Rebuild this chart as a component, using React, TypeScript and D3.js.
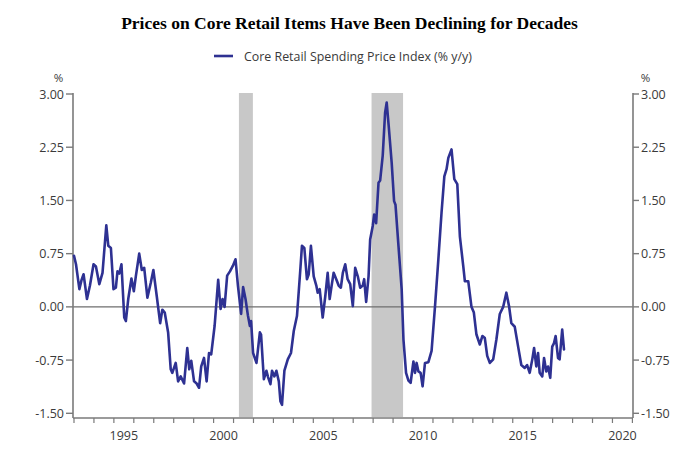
import React from 'react';
import * as d3 from 'd3';

const title = 'Prices on Core Retail Items Have Been Declining for Decades';
const seriesName = 'Core Retail Spending Price Index (% y/y)';

// decimal years
const dates = [
  1993.0, 1993.1, 1993.27, 1993.38, 1993.48, 1993.65, 1993.8, 1993.98, 1994.1, 1994.27,
  1994.43, 1994.62, 1994.72, 1994.85, 1994.98, 1995.1, 1995.18, 1995.27, 1995.38, 1995.52,
  1995.6, 1995.72, 1995.88, 1996.0, 1996.1, 1996.27, 1996.4, 1996.52, 1996.68, 1996.85,
  1996.98, 1997.15, 1997.32, 1997.43, 1997.55, 1997.72, 1997.85, 1997.93, 1998.1, 1998.22,
  1998.35, 1998.52, 1998.68, 1998.78, 1998.88, 1999.02, 1999.15, 1999.27, 1999.38, 1999.52,
  1999.65, 1999.77, 1999.88, 2000.05, 2000.23, 2000.35, 2000.45, 2000.55, 2000.68, 2000.82,
  2000.97, 2001.1, 2001.22, 2001.38, 2001.48, 2001.6, 2001.72, 2001.82, 2001.88, 2001.98,
  2002.15, 2002.32, 2002.38, 2002.52, 2002.65, 2002.73, 2002.85, 2002.93, 2003.05, 2003.15,
  2003.27, 2003.35, 2003.43, 2003.55, 2003.72, 2003.88, 2004.02, 2004.18, 2004.35, 2004.43,
  2004.55, 2004.68, 2004.77, 2004.88, 2005.02, 2005.15, 2005.22, 2005.32, 2005.47, 2005.6,
  2005.72, 2005.82, 2005.93, 2006.02, 2006.15, 2006.27, 2006.38, 2006.48, 2006.6, 2006.72,
  2006.85, 2006.98, 2007.1, 2007.23, 2007.35, 2007.48, 2007.55, 2007.65, 2007.77, 2007.85,
  2007.98, 2008.05, 2008.15, 2008.27, 2008.35, 2008.48, 2008.6, 2008.68, 2008.78, 2008.93,
  2009.05, 2009.12, 2009.27, 2009.43, 2009.52, 2009.65, 2009.77, 2009.88, 2010.02, 2010.1,
  2010.18, 2010.27, 2010.38, 2010.48, 2010.6, 2010.77, 2010.93, 2011.1, 2011.27, 2011.43,
  2011.57, 2011.68, 2011.77, 2011.93, 2012.07, 2012.22, 2012.35, 2012.52, 2012.6, 2012.77,
  2012.93, 2013.05, 2013.18, 2013.35, 2013.48, 2013.6, 2013.72, 2013.85, 2014.02, 2014.18,
  2014.35, 2014.52, 2014.68, 2014.82, 2014.93, 2015.1, 2015.27, 2015.43, 2015.6, 2015.72,
  2015.85, 2015.98, 2016.07, 2016.18, 2016.27, 2016.35, 2016.48, 2016.57, 2016.68, 2016.77,
  2016.88, 2016.98, 2017.07, 2017.15, 2017.27, 2017.35, 2017.48, 2017.57,
];

const values = [
  0.72, 0.6, 0.25, 0.38, 0.46, 0.11, 0.3, 0.6, 0.57, 0.32,
  0.48, 1.15, 0.86, 0.83, 0.25, 0.27, 0.5, 0.47, 0.6, -0.15,
  -0.2, 0.11, 0.4, 0.22, 0.43, 0.75, 0.52, 0.55, 0.13, 0.34,
  0.52, 0.15, -0.23, -0.04, -0.08, -0.36, -0.88, -0.93, -0.79, -1.05,
  -0.98, -1.08, -0.58, -0.88, -0.76, -1.05, -1.08, -1.14, -0.84, -0.72,
  -1.05, -0.65, -0.67, -0.27, 0.38, -0.03, 0.11, 0.0, 0.44, 0.5,
  0.58, 0.67, 0.3, -0.1, 0.28, 0.11, -0.12, -0.27, -0.2, -0.65,
  -0.79, -0.36, -0.39, -1.02, -0.9, -0.99, -1.09, -0.9, -0.98, -0.9,
  -1.05, -1.33, -1.38, -0.9, -0.74, -0.65, -0.34, -0.13, 0.53, 0.86,
  0.83, 0.39, 0.46, 0.86, 0.43, 0.3, 0.2, 0.25, -0.15, 0.15,
  0.48, 0.11, 0.32, 0.48, 0.39, 0.3, 0.27, 0.48, 0.6, 0.39,
  0.32, 0.01, 0.55, 0.43, 0.27, 0.3, 0.39, 0.07, 0.43, 0.95,
  1.14, 1.3, 1.18, 1.75, 1.78, 2.13, 2.74, 2.88, 2.55, 2.03,
  1.49, 1.44, 0.86, 0.25, -0.46, -0.93, -1.04, -1.07, -0.77, -0.93,
  -0.79, -0.91, -0.93, -1.12, -0.79, -0.78, -0.62, 0.0, 0.67, 1.33,
  1.84, 1.94, 2.1, 2.22, 1.8, 1.73, 0.99, 0.57, 0.36, 0.36,
  0.0, -0.08, -0.39, -0.53, -0.41, -0.44, -0.69, -0.79, -0.74, -0.46,
  -0.1, 0.0, 0.2, 0.0, -0.23, -0.28, -0.56, -0.82, -0.86, -0.82,
  -0.93, -0.74, -0.58, -0.84, -0.65, -0.93, -0.98, -0.72, -0.91, -0.84,
  -1.0, -0.56, -0.51, -0.41, -0.72, -0.74, -0.32, -0.6,
];

const recessionStarts = [2001.27, 2007.92];
const recessionEnds = [2001.97, 2009.5];

const yTicks = [3.0, 2.25, 1.5, 0.75, 0.0, -0.75, -1.5];
const yearTicks = d3.range(1993, 2022);
const yearLabels = [1995, 2000, 2005, 2010, 2015, 2020];

const W = 700;
const H = 455;
const left = 73;
const right = 633;
const top = 94;
const bottom = 413.3;

const LINE_COLOR = '#2E3192';
const AXIS_COLOR = '#7a7a7a';
const TEXT_COLOR = '#3a3a3a';
const FONT = "'Open Sans', 'DejaVu Sans', sans-serif";

export default function App() {
  const x = d3.scaleLinear().domain([1992.95, 2021.03]).range([left, right]);
  const y = d3.scaleLinear().domain([-1.5, 3]).range([bottom, top]);
  const axisY = y(-1.5) + 4.7;
  const axisTop = y(3) - 1;

  const pts = dates.map((d, i) => [d, values[i]] as [number, number]);
  const line = d3
    .line<[number, number]>()
    .x((d) => x(d[0]))
    .y((d) => y(d[1]));

  return (
    <svg
      width={W}
      height={H}
      style={{ position: 'absolute', left: 0, top: 0, background: '#fff' }}
      fontFamily={FONT}
    >
      <rect x={0} y={0} width={W} height={H} fill="#fff" />
      <text
        x={349.5}
        y={29}
        textAnchor="middle"
        fontFamily="'Liberation Serif', 'Times New Roman', serif"
        fontWeight="bold"
        fontSize={17.5}
        fill="#000"
      >
        {title}
      </text>

      {/* legend */}
      <line x1={214} x2={233} y1={56} y2={56} stroke={LINE_COLOR} strokeWidth={2.6} />
      <text x={244} y={60.5} fontSize={12.4} fill={TEXT_COLOR}>
        {seriesName}
      </text>

      {/* recession bands */}
      {recessionStarts.map((s, i) => (
        <rect
          key={i}
          x={x(s)}
          y={axisTop}
          width={x(recessionEnds[i]) - x(s)}
          height={axisY - axisTop - 1}
          fill="#c8c8c8"
        />
      ))}

      {/* zero line */}
      <line x1={left} x2={right} y1={y(0)} y2={y(0)} stroke="#6e6e6e" strokeWidth={1.3} />

      {/* axes */}
      <line x1={left} x2={left} y1={axisTop} y2={axisY} stroke={AXIS_COLOR} strokeWidth={1.6} />
      <line x1={right} x2={right} y1={axisTop} y2={axisY} stroke={AXIS_COLOR} strokeWidth={1.6} />
      <line x1={left} x2={right} y1={axisY} y2={axisY} stroke={AXIS_COLOR} strokeWidth={1.6} />

      {yTicks.map((t) => (
        <g key={t}>
          <line x1={left - 7} x2={left} y1={y(t)} y2={y(t)} stroke={AXIS_COLOR} strokeWidth={1.4} />
          <line x1={right} x2={right + 6} y1={y(t)} y2={y(t)} stroke={AXIS_COLOR} strokeWidth={1.4} />
          <text x={left - 9} y={y(t) + 4.5} textAnchor="end" fontSize={12.5} fill={TEXT_COLOR}>
            {t.toFixed(2)}
          </text>
          <text x={right + 8} y={y(t) + 4.5} textAnchor="start" fontSize={12.5} fill={TEXT_COLOR}>
            {t.toFixed(2)}
          </text>
        </g>
      ))}
      <text x={58.5} y={82} textAnchor="middle" fontSize={11.5} fill={TEXT_COLOR}>
        %
      </text>
      <text x={645.5} y={82} textAnchor="middle" fontSize={11.5} fill={TEXT_COLOR}>
        %
      </text>

      {yearTicks.map((yr) => (
        <line
          key={yr}
          x1={x(yr)}
          x2={x(yr)}
          y1={axisY}
          y2={axisY + 5}
          stroke={AXIS_COLOR}
          strokeWidth={1.2}
        />
      ))}
      {yearLabels.map((yr) => (
        <text key={yr} x={x(yr + 0.5)} y={440} textAnchor="middle" fontSize={12.5} fill={TEXT_COLOR}>
          {yr}
        </text>
      ))}

      <path
        d={line(pts) || ''}
        fill="none"
        stroke={LINE_COLOR}
        strokeWidth={2.6}
        strokeLinejoin="round"
        strokeLinecap="round"
      />
    </svg>
  );
}
